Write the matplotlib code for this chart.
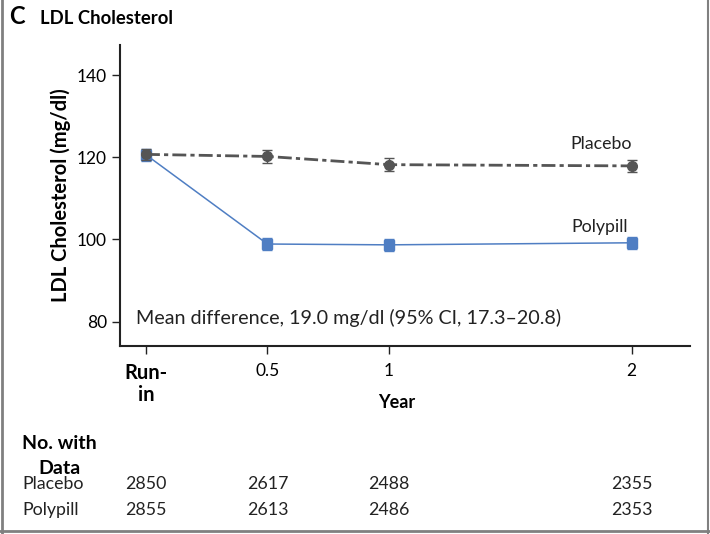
import matplotlib
matplotlib.use('Agg')
import matplotlib.pyplot as plt
from matplotlib.transforms import blended_transform_factory
from matplotlib.lines import Line2D

plt.rcParams['font.family'] = ['Lato', 'DejaVu Sans']

# data
years = [0, 0.5, 1, 2]
tick_labels = ['Run-\nin', '0.5', '1', '2']
placebo = [120.7, 120.2, 118.2, 117.9]
placebo_err = [1.4, 1.5, 1.5, 1.4]
polypill = [120.6, 98.9, 98.7, 99.2]
polypill_err = [1.4, 1.5, 1.5, 1.5]
n_placebo = [2850, 2617, 2488, 2355]
n_polypill = [2855, 2613, 2486, 2353]

gray = '#555555'
blue = '#4f7ec3'
txt = '#222222'

W, H = 710, 534
fig = plt.figure(figsize=(W / 100, H / 100), dpi=100)
ax = fig.add_axes([120 / W, (H - 346) / H, 570 / W, 301 / H])

ax.errorbar(years, polypill, yerr=polypill_err, color=blue, lw=1.1,
            marker='s', ms=7.5, capsize=3.5, elinewidth=1, zorder=3)
ax.errorbar(years, placebo, yerr=placebo_err, color=gray, lw=2,
            marker='o', ms=7, capsize=3.5, elinewidth=1,
            dashes=[5, 1.5, 1.5, 1.5], zorder=4)

ax.set_xlim(-0.107, 2.24)
ax.set_ylim(74.1, 147.3)
ax.set_yticks([80, 100, 120, 140])
ax.set_xticks(years)
ax.set_xticklabels(tick_labels)
ax.tick_params(labelsize=12.5, length=6, width=1, color=txt)
ax.tick_params(axis='x', pad=6)
run_in = ax.get_xticklabels()[0]
run_in.set_fontweight('bold')
run_in.set_fontsize(14.5)
run_in.set_linespacing(1.15)
for s in ['top', 'right']:
    ax.spines[s].set_visible(False)
for s in ['left', 'bottom']:
    ax.spines[s].set_linewidth(1.5)
    ax.spines[s].set_color(txt)

ax.set_ylabel('LDL Cholesterol (mg/dl)', fontsize=14.5, fontweight='bold', labelpad=4)
ax.text(2.0, 121.2, 'Placebo', ha='right', va='bottom', fontsize=12.8, color=txt)
ax.text(1.985, 101.2, 'Polypill', ha='right', va='bottom', fontsize=12.8, color=txt)
ax.text(-0.04, 81, 'Mean difference, 19.0 mg/dl (95% CI, 17.3\u201320.8)',
        ha='left', va='center', fontsize=14.2, color=txt)

fig.text(397 / W, 1 - 403 / H, 'Year', ha='center', va='center',
         fontsize=13, fontweight='bold')
fig.text(9 / W, 1 - 17 / H, 'C', ha='left', va='center', fontsize=17, fontweight='bold')
fig.text(40 / W, 1 - 18 / H, 'LDL Cholesterol', ha='left', va='center',
         fontsize=13.3, fontweight='bold')

# numbers with data
fig.text(59 / W, 1 - 456 / H, 'No. with\nData', ha='center', va='center',
         fontsize=14, fontweight='bold', linespacing=1.55)
tr = blended_transform_factory(ax.transData, fig.transFigure)
for label, counts, y in [('Placebo', n_placebo, 484), ('Polypill', n_polypill, 510)]:
    fig.text(22 / W, 1 - y / H, label, ha='left', va='center', fontsize=12.8, color=txt)
    for x, n in zip(years, counts):
        ax.text(x, 1 - y / H, str(n), transform=tr, ha='center', va='center',
                fontsize=12.8, color=txt, clip_on=False)

# panel frame
fc = '#808080'
fig.add_artist(Line2D([2 / W, 2 / W], [0, 1], transform=fig.transFigure, color=fc, lw=2))
fig.add_artist(Line2D([0, 1], [3 / H, 3 / H], transform=fig.transFigure, color=fc, lw=2))
fig.add_artist(Line2D([708 / W, 708 / W], [0, 1], transform=fig.transFigure, color=fc, lw=1.5))

fig.savefig('out.png', dpi=100)
